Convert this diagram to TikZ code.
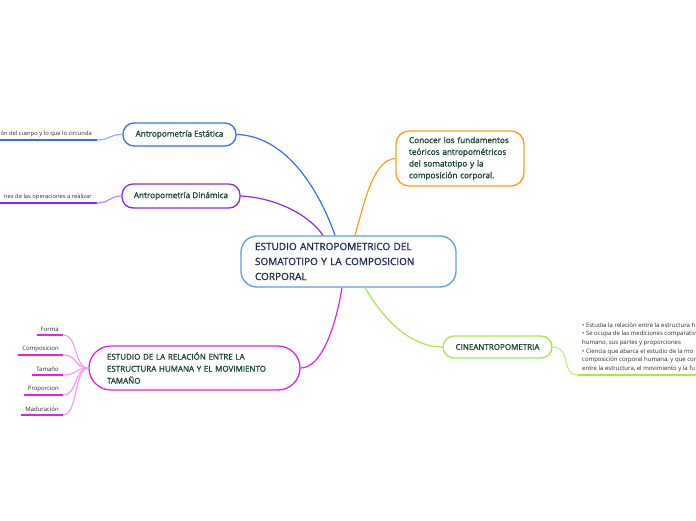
\documentclass[tikz,border=0pt]{standalone}
\usepackage{fontspec}
\setmainfont{Open Sans}
\newfontfamily\semib[FakeBold=1.2]{Open Sans}
\definecolor{cblue}{HTML}{3370F0}
\definecolor{cpurple}{HTML}{8A2BE2}
\definecolor{corange}{HTML}{F7A11A}
\definecolor{cgreen}{HTML}{A8E84A}
\definecolor{cmag}{HTML}{E024E0}
\definecolor{cborder}{HTML}{5A9FD8}
\definecolor{ctext}{HTML}{1C2B4F}
\definecolor{gtext}{HTML}{17432F}
\definecolor{ltext}{HTML}{2A2A2A}
\begin{document}
\begin{tikzpicture}[x=1pt,y=-1pt,
  box/.style={draw, line width=1.3pt, inner sep=0pt, text=gtext, fill=white},
  leaf/.style={inner xsep=4pt, inner ysep=3pt, text=ltext, font=\fontsize{6}{7}\selectfont},
  link/.style={line width=1.2pt},
  uline/.style={line width=1.8pt}]
\useasboundingbox (0,0) rectangle (696,520);
\clip (0,0) rectangle (696,520);

% central node
\node[box, draw=cborder, text=ctext, rounded corners=16pt, minimum height=51pt,
      text width=187pt, inner xsep=14pt, align=left,
      font=\semib\fontsize{10}{15}\selectfont] (c) at (348.5,261.5)
  {ESTUDIO ANTROPOMETRICO DEL\\SOMATOTIPO Y LA COMPOSICION\\CORPORAL};

% main topic nodes
\node[box, draw=cblue, rounded corners=11pt, minimum width=113pt, minimum height=23pt,
      font=\semib\fontsize{8.2}{9}\selectfont] (est) at (179.5,134.5) {Antropometría Estática};
\node[box, draw=cpurple, rounded corners=11pt, minimum width=118pt, minimum height=24pt,
      font=\semib\fontsize{8.2}{9}\selectfont] (din) at (181,196) {Antropometría Dinámica};
\node[box, draw=corange, rounded corners=13pt, minimum height=55pt,
      text width=102pt, inner xsep=13pt, align=left,
      font=\semib\fontsize{8.2}{11.7}\selectfont] (con) at (460,158.5)
  {Conocer los fundamentos\\teóricos antropométricos\\del somatotipo y la\\composición corporal.};
\node[box, draw=cgreen, rounded corners=11pt, minimum width=109pt, minimum height=22pt,
      font=\semib\fontsize{8}{9}\selectfont] (cine) at (497.5,347) {CINEANTROPOMETRIA};
\node[box, draw=cmag, rounded corners=22pt, minimum height=44pt,
      text width=175pt, inner xsep=18pt, align=left,
      font=\semib\fontsize{8}{12}\selectfont] (rel) at (194.5,368)
  {ESTUDIO DE LA RELACIÓN ENTRE LA\\ESTRUCTURA HUMANA Y EL MOVIMIENTO\\TAMAÑO};

% connectors from central node
\draw[link, cblue] (est.east) .. controls (290,136) and (322,198) .. ([xshift=-13.5pt]c.north);
\draw[link, cpurple] (din.east) .. controls (278,198) and (310,216) .. ([xshift=-25.5pt]c.north);
\draw[link, corange] ([xshift=6.5pt]c.north) .. controls (366,196) and (374,160) .. (con.west);
\draw[link, cmag] ([xshift=-6.5pt]c.south) .. controls (336,325) and (322,368) .. (rel.east);
\draw[link, cgreen] ([xshift=16.5pt]c.south) .. controls (385,322) and (412,347) .. (cine.west);

% Estatica leaf
\node[leaf, anchor=south east, inner xsep=5pt, font=\fontsize{5.8}{7}\selectfont] (estl) at (97,140) {ón del cuerpo y lo que lo circunda};
\draw[uline, cblue] (estl.south west) -- (estl.south east);
\draw[link, cblue!55] (est.west) .. controls (110,134) and (110,140) .. (estl.south east);

% Dinamica leaf
\node[leaf, anchor=south east, inner xsep=5pt, font=\fontsize{5.8}{7}\selectfont] (dinl) at (97,203) {nes de las operaciones a realizar};
\draw[uline, cpurple] (dinl.south west) -- (dinl.south east);
\draw[link, cpurple!55] (din.west) .. controls (109,196) and (110,203) .. (dinl.south east);

% Cineantropometria leaf
\node[anchor=south west, inner xsep=4pt, inner ysep=3pt, text=ltext, align=left,
      font=\fontsize{6}{8.6}\selectfont] (cinel) at (578,375)
  {• Estudia la relación entre la estructura h\\
   • Se ocupa de las mediciones comparativ\\
   humano, sus partes y proporciones\\
   • Ciencia que abarca el estudio de la mo\\
   composición corporal humana, y que cor\\
   entre la estructura, el movimiento y la fu};
\draw[uline, cgreen] (cinel.south west) -- (696,375);
\draw[link, cgreen!70] (cine.east) .. controls (572,347) and (560,375) .. (cinel.south west);

% Relacion leaves
\node[leaf, anchor=south east] (forma) at (63,335) {Forma};
\node[leaf, anchor=south east] (comp) at (63,355) {Composicion};
\node[leaf, anchor=south east] (tam) at (63,375) {Tamaño};
\node[leaf, anchor=south east] (prop) at (63,395) {Proporcion};
\node[leaf, anchor=south east] (mad) at (63,415) {Maduración};
\foreach \n in {forma,comp,tam,prop,mad}{
  \draw[uline, cmag] (\n.south west) -- (\n.south east);
  \draw[link, cmag!45] (rel.west) .. controls (74,368) and (78,0 |- \n.south) .. (\n.south east);
}
\end{tikzpicture}
\end{document}
